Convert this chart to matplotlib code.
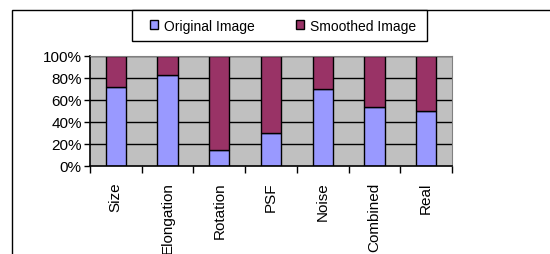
import numpy as np
import matplotlib
matplotlib.use("Agg")
import matplotlib.pyplot as plt
from matplotlib.patches import Rectangle
from matplotlib.ticker import FuncFormatter

categories = ["Size", "Elongation", "Rotation", "PSF", "Noise", "Combined", "Real"]
original = [72, 82.5, 15, 30, 70, 54, 50]
smoothed = [100 - v for v in original]

plt.rcParams['font.family'] = ['Liberation Sans', 'DejaVu Sans']

W, H = 550, 255
fig = plt.figure(figsize=(W / 100, H / 100), dpi=100)
ax = fig.add_axes([90 / W, 1 - 167 / H, (452 - 90) / W, 110 / H])

x = np.arange(len(categories))
ax.set_facecolor("#C0C0C0")
for yv in [20, 40, 60, 80, 100]:
    ax.axhline(yv, color="black", lw=1, zorder=1)
b1 = ax.bar(x, original, width=0.39, color="#9999FF", edgecolor="black", lw=1, zorder=2, label="Original Image")
b2 = ax.bar(x, smoothed, bottom=original, width=0.39, color="#993366", edgecolor="black", lw=1, zorder=2, label="Smoothed Image")

ax.set_xlim(-0.5, len(categories) - 0.5)
ax.set_ylim(0, 100)
ax.set_yticks([0, 20, 40, 60, 80, 100])
ax.yaxis.set_major_formatter(FuncFormatter(lambda v, p: f"{int(v)}%"))
ax.tick_params(axis="y", length=4, width=1, labelsize=11, pad=2, direction="out")
ax.set_xticks(x)
ax.set_xticklabels(categories, rotation=90, fontsize=11)
ax.tick_params(axis="x", length=0, pad=11)
ax.set_xticks(np.arange(len(categories) + 1) - 0.5, minor=True)
ax.tick_params(axis="x", which="minor", length=5, width=1, direction="out")
for s in ["top", "right"]:
    ax.spines[s].set_color("#808080")
for s in ["left", "bottom"]:
    ax.spines[s].set_color("black")
    ax.spines[s].set_linewidth(1.2)

# outer chart frame
fig.patches.append(Rectangle((12 / W, -0.1), 1.2, 1.1 - 11 / H, transform=fig.transFigure,
                             fill=False, edgecolor="black", lw=1))
# legend box
fig.patches.append(Rectangle((132 / W, 1 - 42 / H), (427 - 132) / W, 31 / H, transform=fig.transFigure,
                             facecolor="white", edgecolor="black", lw=1))

leg = fig.legend(handles=[b1, b2], loc="center", ncol=2,
                 bbox_to_anchor=(283 / W, 1 - 26.5 / H),
                 fontsize=10, frameon=False,
                 handlelength=0.6, handleheight=0.6, handletextpad=0.4,
                 columnspacing=3.0, borderaxespad=0, borderpad=0)

fig.savefig("out.png", dpi=100)
